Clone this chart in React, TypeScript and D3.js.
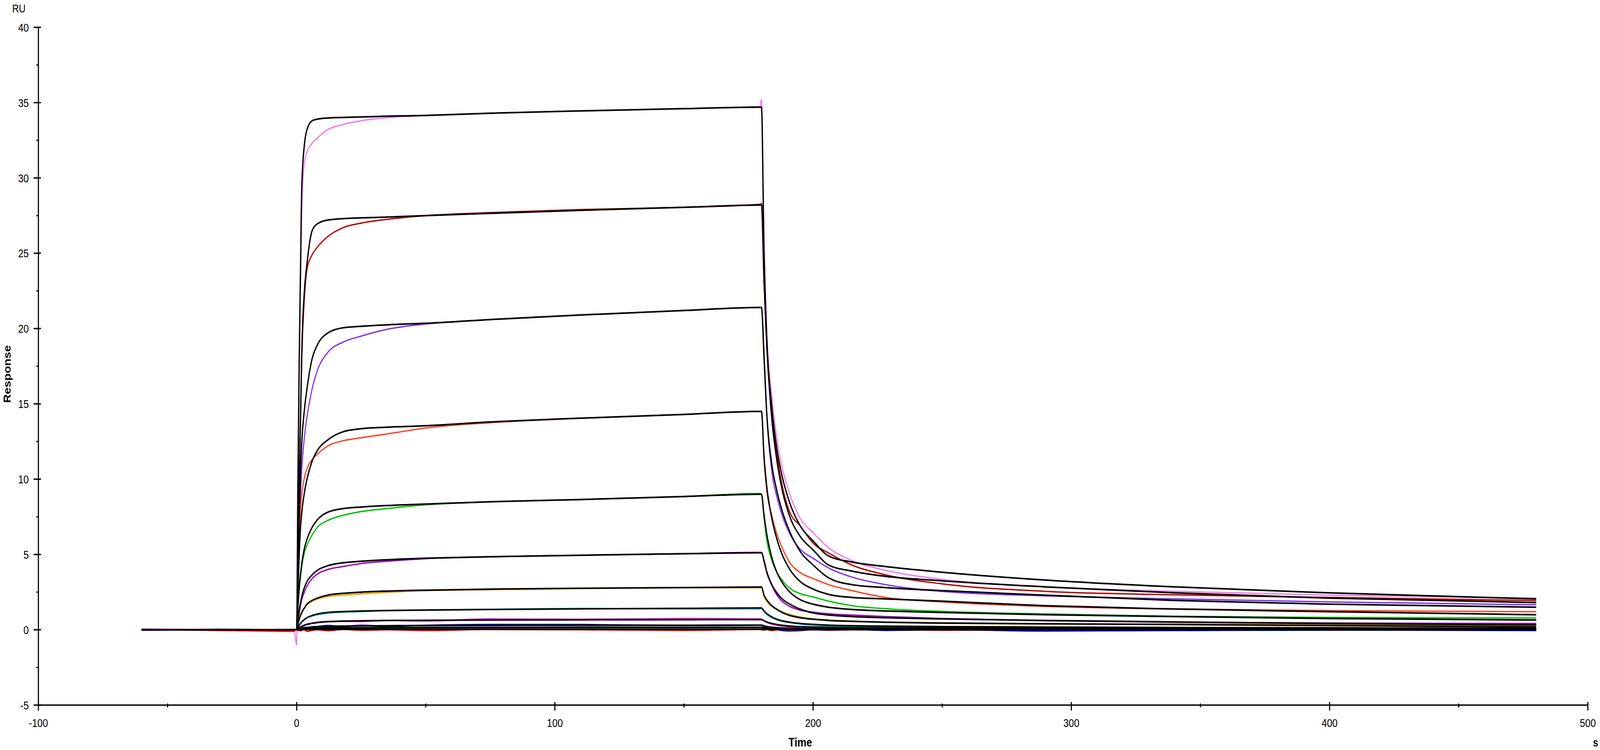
import { useEffect, useRef } from 'react';
import * as d3 from 'd3';

// Sampling times (s): baseline, association (0-180 s), dissociation (180-480 s)
const TIME = [
  -60, -30, -1,
  0, 0.5, 1, 1.5, 2, 3, 4, 6, 8, 12, 18, 25, 35, 50, 75, 110, 150, 179.5,
  180, 181, 182, 184, 186, 188, 191, 195, 200, 206, 215, 228, 250, 290, 340, 400, 480,
];

// Measured responses (RU), highest concentration first
const obs1 = [0.02, -0.03, 0, -1.0, 9, 17, 23, 28, 31.0, 31.7, 32.3, 32.65, 33.2, 33.55, 33.8, 34.0, 34.15, 34.3, 34.45, 34.6, 34.75, 35.2, 26, 20.2, 15.5, 12.7, 10.8, 9.0, 7.4, 6.45, 5.45, 4.6, 3.95, 3.35, 2.85, 2.55, 2.3, 2.1];
const obs2 = [-0.02, 0.03, 0.01, 0, 5, 10, 14, 18, 22, 23.9, 24.9, 25.4, 26.1, 26.7, 27.0, 27.25, 27.5, 27.7, 27.9, 28.05, 28.25, 28.3, 23.5, 19.5, 14.5, 11.6, 9.6, 7.8, 6.9, 5.75, 5.1, 4.3, 3.65, 3.05, 2.55, 2.32, 2.15, 1.94];
const obs3 = [0.01, -0.02, 0.02, 0, 3.5, 6.5, 9, 10.7, 12.8, 14.1, 16.0, 17.2, 18.4, 19.1, 19.5, 19.95, 20.3, 20.6, 20.9, 21.2, 21.4, 21.4, 18.5, 14.5, 10.5, 8.8, 7.6, 6.35, 5.35, 4.75, 4.1, 3.5, 3.0, 2.55, 2.25, 2.05, 1.85, 1.66];
const obs4 = [0.03, 0, -0.02, 0, 3, 6.0, 8.0, 9.0, 10.1, 10.7, 11.3, 11.65, 12.2, 12.55, 12.75, 13.0, 13.4, 13.75, 14.05, 14.3, 14.5, 14.5, 11.2, 9.3, 7.6, 6.35, 5.45, 4.45, 3.8, 3.4, 3.0, 2.6, 2.15, 1.85, 1.55, 1.38, 1.28, 1.2];
const obs5 = [-0.03, 0.02, 0, 0, 1.4, 2.6, 3.5, 4.2, 5.1, 5.6, 6.3, 6.8, 7.25, 7.6, 7.85, 8.05, 8.3, 8.5, 8.65, 8.85, 9.05, 9.0, 7.4, 6.0, 4.6, 3.8, 3.3, 2.75, 2.4, 2.18, 1.9, 1.6, 1.4, 1.22, 1.05, 0.9, 0.82, 0.78];
const obs6 = [0, 0.02, -0.01, 0, 0.6, 1.1, 1.6, 2.0, 2.5, 2.9, 3.4, 3.7, 4.0, 4.2, 4.4, 4.55, 4.72, 4.85, 4.95, 5.05, 5.1, 5.1, 4.5, 3.8, 2.95, 2.3, 1.9, 1.55, 1.3, 1.17, 1.06, 0.98, 0.88, 0.75, 0.6, 0.5, 0.45, 0.42];
const obs7 = [0.02, -0.02, 0.01, 0, 0.4, 0.8, 1.05, 1.2, 1.45, 1.65, 1.9, 2.03, 2.2, 2.3, 2.38, 2.48, 2.6, 2.66, 2.74, 2.8, 2.78, 2.8, 2.2, 1.9, 1.55, 1.35, 1.2, 1.02, 0.86, 0.72, 0.65, 0.58, 0.5, 0.42, 0.38, 0.38, 0.35, 0.3];
const obs8 = [-0.02, 0.01, 0, 0, 0.18, 0.35, 0.45, 0.55, 0.7, 0.8, 0.92, 1.0, 1.1, 1.17, 1.2, 1.28, 1.3, 1.36, 1.42, 1.38, 1.38, 1.42, 1.2, 1.03, 0.8, 0.66, 0.56, 0.47, 0.38, 0.3, 0.24, 0.2, 0.16, 0.13, 0.07, 0.03, 0.02, 0];
const obs9 = [0.05, 0, -0.02, 0, 0.08, 0.15, 0.2, 0.25, 0.32, 0.38, 0.45, 0.5, 0.55, 0.56, 0.55, 0.62, 0.58, 0.72, 0.7, 0.75, 0.72, 0.7, 0.6, 0.5, 0.38, 0.3, 0.25, 0.2, 0.16, 0.13, 0.1, 0.08, 0.06, 0.05, 0.02, 0, 0, -0.02];
const obs10 = [-0.03, 0.02, 0, 0, 0.04, 0.06, 0.1, 0.12, 0.15, 0.16, 0.2, 0.22, 0.28, 0.22, 0.3, 0.24, 0.3, 0.35, 0.35, 0.28, 0.3, 0.3, 0.2, 0.12, 0.05, 0, -0.05, -0.08, -0.05, 0, -0.02, 0.02, -0.04, 0, -0.08, -0.05, -0.02, -0.05];
const obs11 = [0, -0.04, 0.02, 0, 0.03, 0.05, 0.06, 0.08, 0.1, 0.1, 0.12, 0.1, 0.14, 0.16, 0.12, 0.18, 0.14, 0.15, 0.18, 0.16, 0.15, 0.15, 0.12, 0.1, 0.07, 0.05, 0.04, 0.04, 0.03, 0.05, 0.02, 0.04, 0.03, 0.01, 0.03, 0, 0.02, 0];
const obs12 = [0.03, -0.04, -0.1, 0.08, -0.05, -0.02, -0.08, -0.03, 0, -0.1, -0.04, 0, -0.06, 0.02, -0.03, 0, -0.05, 0.02, 0, -0.04, 0.02, 0, -0.02, 0.02, -0.05, 0, 0.02, -0.04, 0, 0.03, -0.02, 0, 0.02, -0.03, 0, 0.02, -0.01, 0];

// Fitted curves (RU), same order
const fit1 = [0, 0, 0, 0, 10, 18, 24, 29.5, 32.2, 33.2, 33.8, 33.9, 33.98, 34.02, 34.05, 34.1, 34.15, 34.3, 34.45, 34.6, 34.7, 34.7, 25, 19.5, 14.8, 12.0, 10.2, 8.4, 6.9, 5.9, 4.9, 4.5, 4.2, 3.82, 3.3, 2.85, 2.45, 2.05];
const fit2 = [0, 0, 0, 0, 5, 10, 14, 18.5, 22.5, 24.3, 26.5, 26.95, 27.2, 27.3, 27.35, 27.4, 27.5, 27.65, 27.85, 28.05, 28.2, 28.2, 23, 19, 14, 11.2, 9.3, 7.5, 6.2, 5.3, 4.3, 3.9, 3.55, 3.25, 2.85, 2.45, 2.1, 1.81];
const fit3 = [0, 0, 0, 0, 3.8, 7.5, 10.5, 12.5, 14.6, 16.0, 18.0, 18.9, 19.7, 20.05, 20.15, 20.25, 20.35, 20.6, 20.9, 21.2, 21.4, 21.4, 18, 14.5, 11, 9.2, 7.9, 6.5, 5.2, 4.3, 3.45, 3.0, 2.8, 2.6, 2.3, 1.95, 1.7, 1.5];
const fit4 = [0, 0, 0, 0, 2.5, 5.0, 6.8, 7.8, 9.1, 10.0, 11.2, 11.9, 12.6, 13.15, 13.35, 13.45, 13.55, 13.8, 14.05, 14.3, 14.5, 14.5, 11.5, 9.6, 7.4, 6.0, 5.0, 4.0, 3.2, 2.7, 2.35, 2.15, 2.05, 1.9, 1.6, 1.38, 1.2, 1.0];
const fit5 = [0, 0, 0, 0, 1.5, 2.8, 3.7, 4.4, 5.4, 6.0, 6.8, 7.3, 7.8, 8.05, 8.15, 8.25, 8.35, 8.5, 8.65, 8.85, 9.0, 9.0, 7.6, 6.4, 4.8, 3.8, 3.15, 2.5, 2.0, 1.7, 1.5, 1.35, 1.25, 1.15, 1.0, 0.88, 0.75, 0.65];
const fit6 = [0, 0, 0, 0, 0.7, 1.3, 1.8, 2.2, 2.8, 3.2, 3.65, 3.95, 4.25, 4.45, 4.55, 4.65, 4.75, 4.85, 4.95, 5.05, 5.13, 5.13, 4.6, 3.9, 3.0, 2.45, 2.05, 1.7, 1.37, 1.12, 0.98, 0.88, 0.8, 0.72, 0.62, 0.52, 0.42, 0.33];
const fit7 = [0, 0, 0, 0, 0.35, 0.7, 0.95, 1.15, 1.45, 1.7, 1.95, 2.1, 2.3, 2.42, 2.5, 2.57, 2.63, 2.7, 2.76, 2.8, 2.84, 2.84, 2.3, 2.0, 1.6, 1.35, 1.15, 0.95, 0.8, 0.7, 0.62, 0.56, 0.5, 0.45, 0.4, 0.35, 0.28, 0.2];
const fit8 = [0, 0, 0, 0, 0.15, 0.3, 0.42, 0.52, 0.68, 0.8, 0.95, 1.05, 1.15, 1.21, 1.25, 1.28, 1.31, 1.35, 1.39, 1.42, 1.45, 1.45, 1.25, 1.08, 0.85, 0.7, 0.6, 0.5, 0.42, 0.36, 0.31, 0.27, 0.24, 0.21, 0.18, 0.15, 0.13, 0.1];
const fit9 = [0, 0, 0, 0, 0.07, 0.13, 0.18, 0.22, 0.3, 0.35, 0.43, 0.48, 0.54, 0.58, 0.6, 0.62, 0.63, 0.65, 0.66, 0.67, 0.68, 0.68, 0.6, 0.52, 0.42, 0.35, 0.3, 0.25, 0.21, 0.18, 0.16, 0.14, 0.12, 0.11, 0.09, 0.07, 0.06, 0.05];
const fit10 = [0, 0, 0, 0, 0.03, 0.05, 0.07, 0.09, 0.12, 0.14, 0.18, 0.2, 0.23, 0.25, 0.26, 0.27, 0.28, 0.29, 0.3, 0.3, 0.31, 0.31, 0.26, 0.22, 0.17, 0.14, 0.12, 0.1, 0.08, 0.07, 0.06, 0.05, 0.05, 0.04, 0.03, 0.03, 0.02, 0.02];
const fit11 = [0, 0, 0, 0, 0.02, 0.03, 0.04, 0.05, 0.07, 0.08, 0.1, 0.11, 0.12, 0.13, 0.14, 0.14, 0.15, 0.15, 0.16, 0.16, 0.16, 0.16, 0.14, 0.12, 0.1, 0.08, 0.07, 0.06, 0.05, 0.04, 0.04, 0.03, 0.03, 0.03, 0.02, 0.02, 0.02, 0.01];
const fit12 = [0, 0, 0, 0, 0.01, 0.01, 0.01, 0.02, 0.02, 0.02, 0.03, 0.03, 0.03, 0.03, 0.04, 0.04, 0.04, 0.04, 0.04, 0.04, 0.04, 0.04, 0.03, 0.03, 0.02, 0.02, 0.02, 0.01, 0.01, 0.01, 0.01, 0.01, 0.01, 0.01, 0, 0, 0, 0];

const COLORS = [
  '#ee7cee', '#b80000', '#8030f0', '#ff4020', '#00c000', '#9900bb',
  '#e8a800', '#00d0d0', '#ff00ff', '#0000e0', '#006400', '#e00000',
];

const OBSERVED = [obs1, obs2, obs3, obs4, obs5, obs6, obs7, obs8, obs9, obs10, obs11, obs12];
const FITTED = [fit1, fit2, fit3, fit4, fit5, fit6, fit7, fit8, fit9, fit10, fit11, fit12];

const Y_TICKS = [-5, 0, 5, 10, 15, 20, 25, 30, 35, 40];
const Y_MINOR = [-2.5, 2.5, 7.5, 12.5, 17.5, 22.5, 27.5, 32.5, 37.5];
const X_TICKS = [-100, 0, 100, 200, 300, 400, 500];
const X_MINOR = [-50, 50, 150, 250, 350, 450];

const FONT = '"Liberation Sans", Arial, sans-serif';
const W = 5000;
const H = 1921;

export default function App() {
  const svgRef = useRef<SVGSVGElement>(null);

  useEffect(() => {
    if (!svgRef.current) return;

    const svg = d3.select(svgRef.current);
    svg.selectAll('*').remove();

    svg.append('rect').attr('width', W).attr('height', H).attr('fill', '#fff');

    const x = d3.scaleLinear().domain([-100, 500]).range([120, 4962]);
    const y = d3.scaleLinear().domain([-5, 40]).range([1806, 70]);

    const line = d3.line<number>()
      .x((_, i) => x(TIME[i]))
      .y(d => y(d))
      .curve(d3.curveMonotoneX);

    // Measured sensorgrams
    OBSERVED.forEach((values, i) => {
      svg.append('path')
        .attr('d', line(values))
        .attr('fill', 'none')
        .attr('stroke', COLORS[i])
        .attr('stroke-width', 3.5)
        .attr('stroke-linejoin', 'round');
    });

    // Fitted curves on top
    FITTED.forEach(values => {
      svg.append('path')
        .attr('d', line(values))
        .attr('fill', 'none')
        .attr('stroke', '#000')
        .attr('stroke-width', 4)
        .attr('stroke-linejoin', 'round');
    });

    // Axes
    const axes = svg.append('g').attr('stroke', '#000').attr('stroke-width', 3.5);
    axes.append('line').attr('x1', x(-100)).attr('x2', x(-100)).attr('y1', y(40)).attr('y2', y(-5));
    axes.append('line').attr('x1', x(-100)).attr('x2', x(500)).attr('y1', y(-5)).attr('y2', y(-5));

    Y_TICKS.forEach(v => {
      axes.append('line').attr('x1', x(-100) - 15).attr('x2', x(-100) + 8).attr('y1', y(v)).attr('y2', y(v));
    });
    Y_MINOR.forEach(v => {
      axes.append('line').attr('x1', x(-100) - 6).attr('x2', x(-100)).attr('y1', y(v)).attr('y2', y(v));
    });
    X_TICKS.forEach(v => {
      axes.append('line').attr('x1', x(v)).attr('x2', x(v)).attr('y1', y(-5) - 8).attr('y2', y(-5) + 14);
    });
    X_MINOR.forEach(v => {
      axes.append('line').attr('x1', x(v)).attr('x2', x(v)).attr('y1', y(-5) - 4).attr('y2', y(-5) + 6);
    });

    // Tick labels
    svg.append('g')
      .selectAll('text')
      .data(Y_TICKS)
      .join('text')
      .attr('x', x(-100) - 30)
      .attr('y', d => y(d))
      .attr('dy', '0.36em')
      .attr('text-anchor', 'end')
      .attr('font-family', FONT)
      .attr('font-size', 30)
      .attr('fill', '#000')
      .text(d => d);

    svg.append('g')
      .selectAll('text')
      .data(X_TICKS)
      .join('text')
      .attr('x', d => x(d))
      .attr('y', 1862)
      .attr('text-anchor', 'middle')
      .attr('font-family', FONT)
      .attr('font-size', 30)
      .attr('fill', '#000')
      .text(d => d);

    // Unit and axis titles
    svg.append('text')
      .attr('x', 38)
      .attr('y', 32)
      .attr('font-family', FONT)
      .attr('font-size', 29)
      .attr('fill', '#000')
      .text('RU');

    svg.append('text')
      .attr('transform', 'translate(33,958) rotate(-90)')
      .attr('text-anchor', 'middle')
      .attr('font-family', FONT)
      .attr('font-weight', 'bold')
      .attr('font-size', 31)
      .attr('fill', '#000')
      .text('Response');

    svg.append('text')
      .attr('x', 2501)
      .attr('y', 1912)
      .attr('text-anchor', 'middle')
      .attr('font-family', FONT)
      .attr('font-weight', 'bold')
      .attr('font-size', 32)
      .attr('fill', '#000')
      .text('Time');

    svg.append('text')
      .attr('x', 4978)
      .attr('y', 1912)
      .attr('font-family', FONT)
      .attr('font-weight', 'bold')
      .attr('font-size', 30)
      .attr('fill', '#000')
      .text('s');
  }, []);

  // The chart is laid out on a 5000 x 1921 grid and stretched to fill the window
  return (
    <svg
      ref={svgRef}
      viewBox={`0 0 ${W} ${H}`}
      preserveAspectRatio="none"
      style={{ position: 'fixed', left: 0, top: 0, width: '100vw', height: '100vh', display: 'block' }}
    />
  );
}
